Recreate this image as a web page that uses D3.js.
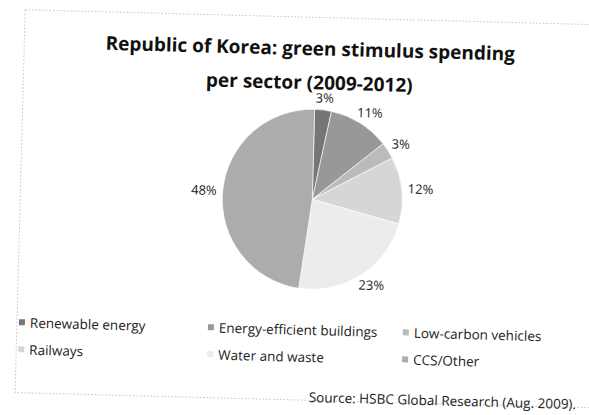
<!DOCTYPE html>
<html><head><meta charset="utf-8">
<script src="https://cdn.jsdelivr.net/npm/d3@7"></script>
<style>body{margin:0;background:#fff}svg{display:block}</style>
</head><body>
<svg id="c" width="589" height="415"></svg>
<script>
const categories = ["Renewable energy","Energy-efficient buildings","Low-carbon vehicles","Railways","Water and waste","CCS/Other"];
const values = [3, 11, 3, 12, 23, 48];
const colors = ["#767676","#989898","#bbbbbb","#d6d6d6","#ececec","#acacac"];
const titleLines = ["Republic of Korea: green stimulus spending","per sector (2009-2012)"];
const source = "Source: HSBC Global Research (Aug. 2009).";

const svg = d3.select("#c");
const g = svg.append("g").attr("transform","rotate(1.5 300 210)");
const font = "'Open Sans', sans-serif";

// faint dotted frame
g.append("rect").attr("x",20).attr("y",17).attr("width",640).attr("height",383)
  .attr("fill","none").attr("stroke","#b5b5b5").attr("stroke-dasharray","1.5,2").attr("stroke-width",0.8);

// title
g.selectAll("text.title").data(titleLines).join("text")
  .attr("class","title")
  .attr("x",306).attr("y",(d,i)=>55+i*34)
  .attr("text-anchor","middle")
  .style("font-family",font).style("font-weight","700").style("font-size","19px")
  .attr("fill","#111").text(d=>d);

// pie
const cx=312, cy=199, r=90;
const pie = d3.pie().sort(null).value(d=>d.v);
const data = pie(categories.map((c,i)=>({c, v:values[i], col:colors[i]})));
const arc = d3.arc().innerRadius(0).outerRadius(r);
const pg = g.append("g").attr("transform",`translate(${cx},${cy})`);
pg.selectAll("path").data(data).join("path")
  .attr("d",arc).attr("fill",d=>d.data.col)
  .attr("stroke","#fff").attr("stroke-width",0.6);
const labels = pg.selectAll("text").data(data).join("text")
  .attr("text-anchor","middle").attr("dy","0.35em")
  .style("font-family",font).style("font-size","13px").attr("fill","#222")
  .text(d=>d.data.v+"%");
labels.each(function(d){
  const a=(d.startAngle+d.endAngle)/2, hw=this.getComputedTextLength()/2, hh=6, R=r+6;
  const x=Math.sin(a)*R + hw*Math.sin(a);
  const y=-Math.cos(a)*R - hh*Math.cos(a);
  d3.select(this).attr("x",x).attr("y",y);
});

// legend
const legX=[25,214,409], legY=[330,357];
const items = g.append("g").selectAll("g").data(categories).join("g")
  .attr("transform",(d,i)=>`translate(${legX[i%3]},${legY[Math.floor(i/3)]})`);
items.append("rect").attr("x",-3).attr("y",-3.5).attr("width",6).attr("height",6)
  .attr("fill",(d,i)=>colors[i]);
items.append("text").attr("x",8).attr("y",0).attr("dy","0.35em")
  .style("font-family",font).style("font-size","13.5px").attr("fill","#222").text(d=>d);

// source
g.append("text").attr("x",581).attr("y",397).attr("dy","0.35em").attr("text-anchor","end")
  .style("font-family",font).style("font-size","13.5px").attr("fill","#222").text(source);
</script>
</body></html>
